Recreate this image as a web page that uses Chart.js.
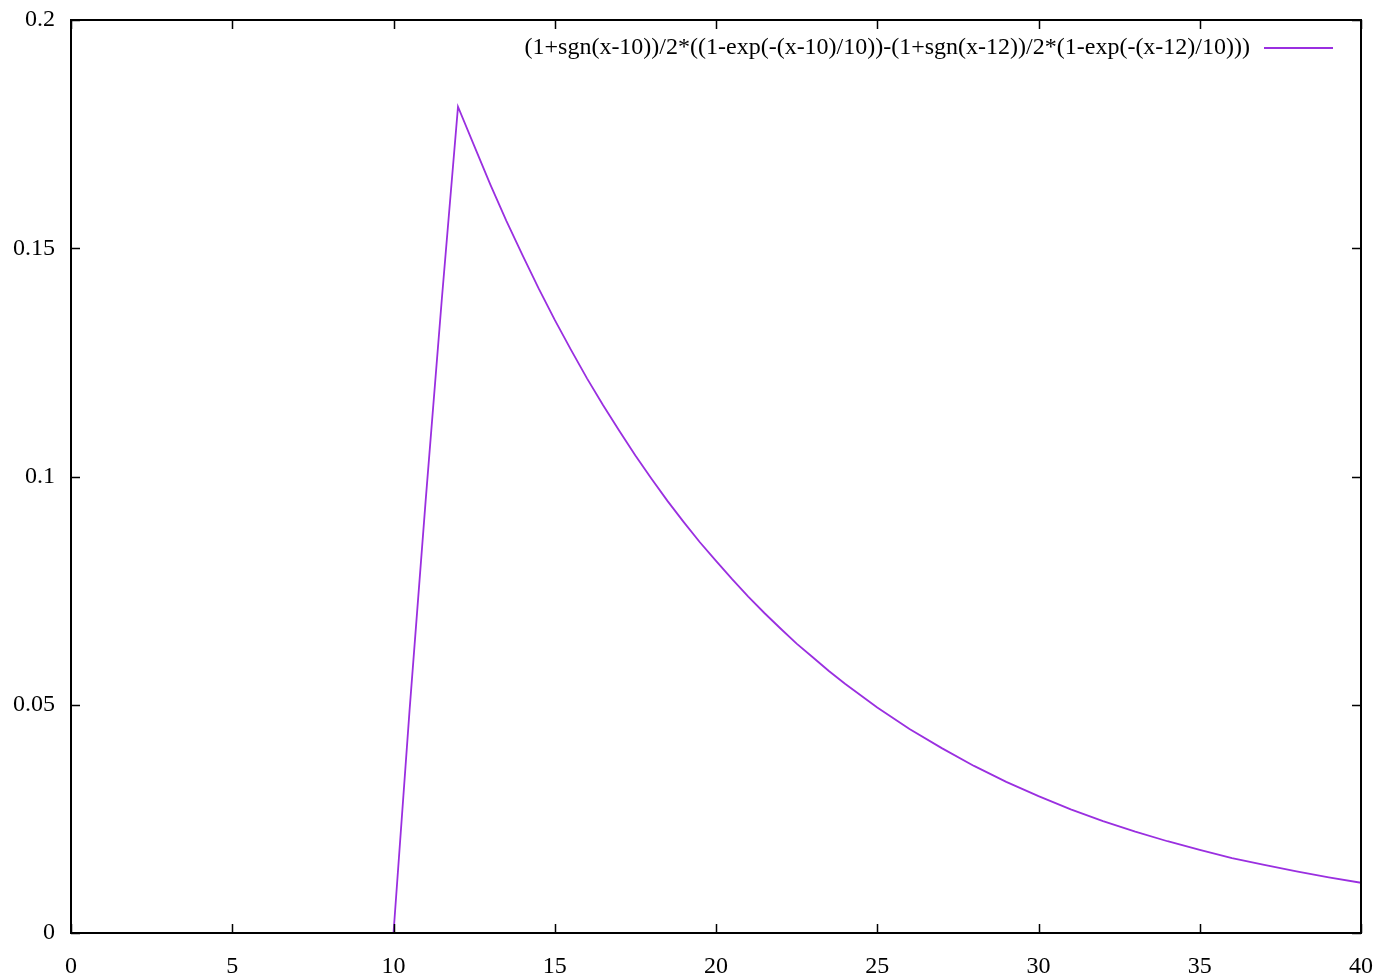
<!DOCTYPE html>
<html>
<head>
<meta charset="utf-8">
<script src="https://cdn.jsdelivr.net/npm/chart.js@4"></script>
<style>
  html, body { margin: 0; padding: 0; background: #fff; }
  #wrap { width: 1376px; height: 978px; }
</style>
</head>
<body>
<div id="wrap"><canvas id="plot" width="1376" height="978"></canvas></div>
<script>
// values
const seriesLabel = '(1+sgn(x-10))/2*((1-exp(-(x-10)/10))-(1+sgn(x-12))/2*(1-exp(-(x-12)/10)))';
const xs = [0, 10, 10.5, 11, 11.5, 12, 12.5, 13, 13.5, 14, 14.5, 15, 15.5, 16, 16.5, 17, 17.5,
            18, 18.5, 19, 19.5, 20, 20.5, 21, 21.5, 22, 22.5, 23, 23.5, 24, 25, 26, 27, 28,
            29, 30, 31, 32, 33, 34, 35, 36, 37, 38, 39, 40];
const ys = [0, 0, 0.049, 0.095, 0.139, 0.181, 0.1725, 0.164, 0.156, 0.1485, 0.1412, 0.1343,
            0.1278, 0.1215, 0.1156, 0.110, 0.1046, 0.0995, 0.0946, 0.090, 0.0856, 0.0815,
            0.0775, 0.0737, 0.0701, 0.0667, 0.0634, 0.0604, 0.0574, 0.0546, 0.0494, 0.0447,
            0.0405, 0.0366, 0.0331, 0.030, 0.0271, 0.0245, 0.0222, 0.0201, 0.0182, 0.0164,
            0.0149, 0.0135, 0.0122, 0.0110];
const xTicks = [0, 5, 10, 15, 20, 25, 30, 35, 40];
const yTicks = [0, 0.05, 0.1, 0.15, 0.2];
const yTickText = ['0', '0.05', '0.1', '0.15', '0.2'];

const lineColor = '#9a2fe0';
const fontFamily = '"Liberation Serif", "DejaVu Serif", serif';

// gnuplot-like frame: box, inward ticks on all sides, legend top right
const framePlugin = {
  id: 'frame',
  afterDatasetsDraw(chart) {
    const ctx = chart.ctx;
    const a = chart.chartArea;
    const sx = chart.scales.x, sy = chart.scales.y;
    const tl = 9;
    ctx.save();
    ctx.strokeStyle = '#000';
    ctx.lineWidth = 1.5;
    ctx.beginPath();
    xTicks.forEach(v => {
      const px = Math.round(sx.getPixelForValue(v)) + 0.5;
      ctx.moveTo(px, a.bottom); ctx.lineTo(px, a.bottom - tl);
      ctx.moveTo(px, a.top); ctx.lineTo(px, a.top + tl);
    });
    yTicks.forEach(v => {
      const py = Math.round(sy.getPixelForValue(v)) + 0.5;
      ctx.moveTo(a.left, py); ctx.lineTo(a.left + tl, py);
      ctx.moveTo(a.right, py); ctx.lineTo(a.right - tl, py);
    });
    ctx.stroke();
    ctx.lineWidth = 2;
    ctx.strokeRect(a.left, a.top, a.right - a.left, a.bottom - a.top);

    // legend
    const ly = a.top + 28;
    ctx.font = '24px ' + fontFamily;
    ctx.fillStyle = '#000';
    ctx.textAlign = 'right';
    ctx.textBaseline = 'middle';
    ctx.fillText(seriesLabel, a.right - 111, ly);
    ctx.strokeStyle = lineColor;
    ctx.lineWidth = 1.8;
    ctx.beginPath();
    ctx.moveTo(a.right - 97, ly);
    ctx.lineTo(a.right - 28, ly);
    ctx.stroke();
    ctx.restore();
  }
};

new Chart(document.getElementById('plot'), {
  type: 'line',
  data: {
    datasets: [{
      label: seriesLabel,
      data: xs.map((x, i) => ({ x: x, y: ys[i] })),
      borderColor: lineColor,
      borderWidth: 1.8,
      pointRadius: 0,
      tension: 0,
      fill: false
    }]
  },
  options: {
    responsive: false,
    animation: false,
    layout: { padding: { top: 20, right: 15, left: 0, bottom: 0 } },
    plugins: { legend: { display: false }, tooltip: { enabled: false } },
    scales: {
      x: {
        type: 'linear', min: 0, max: 40,
        afterBuildTicks: s => { s.ticks = xTicks.map(v => ({ value: v })); },
        afterFit: s => { s.height = 45; s.paddingLeft = 0; s.paddingRight = 0; },
        grid: { display: false, drawTicks: false },
        border: { display: false },
        ticks: { color: '#000', font: { family: fontFamily, size: 24 }, padding: 19, maxRotation: 0 }
      },
      y: {
        type: 'linear', min: 0, max: 0.2,
        afterBuildTicks: s => { s.ticks = yTicks.map(v => ({ value: v })); },
        afterFit: s => { s.width = 71; s.paddingTop = 0; s.paddingBottom = 0; },
        grid: { display: false, drawTicks: false },
        border: { display: false },
        ticks: {
          color: '#000', font: { family: fontFamily, size: 24 }, padding: 16,
          callback: (v) => yTickText[yTicks.indexOf(v)] ?? String(v)
        }
      }
    }
  },
  plugins: [framePlugin]
});
</script>
</body>
</html>
